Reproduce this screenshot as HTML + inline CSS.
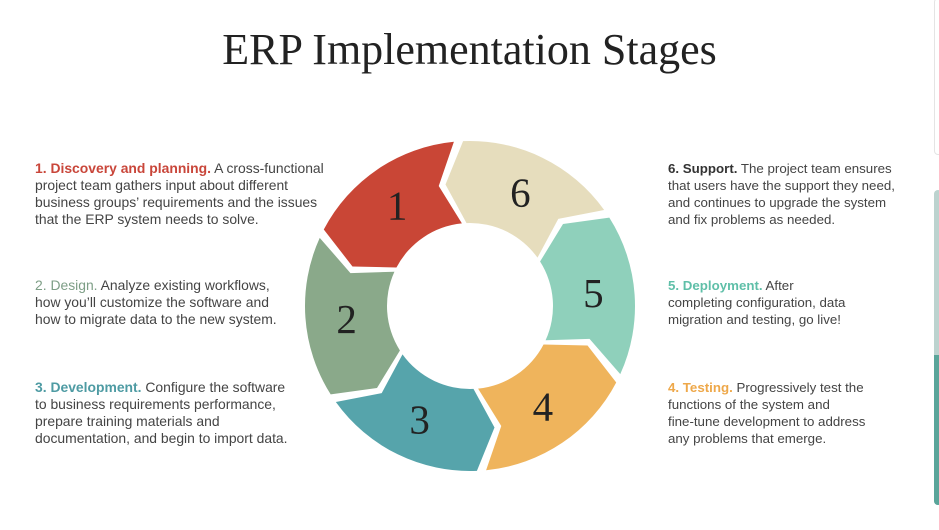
<!DOCTYPE html>
<html><head><meta charset="utf-8">
<style>
html,body{margin:0;padding:0;background:#fff;width:939px;height:530px;overflow:hidden;position:relative;font-family:"Liberation Sans",sans-serif}
h1{position:absolute;left:0;width:939px;top:24px;margin:0;text-align:center;font-family:"Liberation Serif",serif;font-weight:normal;font-size:44px;color:#222}
.blk{position:absolute;font-size:13.9px;line-height:17px;color:#444;white-space:nowrap}
.blk.r{font-size:13.3px}
.blk b{font-weight:bold}
</style></head><body>
<h1>ERP Implementation Stages</h1>
<div class="blk" style="left:35px;top:160px"><b style="color:#c9463a">1. Discovery and planning.</b> A cross-functional<br>project team gathers input about different<br>business groups’ requirements and the issues<br>that the ERP system needs to solve.</div>
<div class="blk" style="left:35px;top:277px"><b style="color:#7d9e86;font-weight:normal">2. Design.</b> Analyze existing workflows,<br>how you’ll customize the software and<br>how to migrate data to the new system.</div>
<div class="blk" style="left:35px;top:379px"><b style="color:#4e9ba3">3. Development.</b> Configure the software<br>to business requirements performance,<br>prepare training materials and<br>documentation, and begin to import data.</div>
<div class="blk r" style="left:668px;top:160px"><b style="color:#333">6. Support.</b> The project team ensures<br>that users have the support they need,<br>and continues to upgrade the system<br>and fix problems as needed.</div>
<div class="blk r" style="left:668px;top:277px"><b style="color:#5fbfa8">5. Deployment.</b> After<br>completing configuration, data<br>migration and testing, go live!</div>
<div class="blk r" style="left:668px;top:379px"><b style="color:#eea84a">4. Testing.</b> Progressively test the<br>functions of the system and<br>fine-tune development to address<br>any problems that emerge.</div>
<div style="position:absolute;left:934px;top:-2px;width:10px;height:155px;border:1px solid #e4e4e4;border-radius:4px"></div>
<div style="position:absolute;left:934px;top:190px;width:8px;height:315px;background:#bcd3cf;border-radius:5px;overflow:hidden"><div style="position:absolute;left:0;top:165px;width:8px;height:150px;background:#5aa59a"></div></div>
<svg id="wheel" width="939" height="530" style="position:absolute;left:0;top:0"></svg>
<script>
const stageLabels=["1","2","3","4","5","6"];
const stageAngles=[-124,176,116,56,-4,-64];
const stageColors=["#c94636","#8aa98a","#56a4ab","#efb45c","#8fd0bb","#e6ddbd"];
const cx=470,cy=306,R=165,r=83,gap=1.6,tip=9,span=30;
const svg=document.getElementById('wheel');
const NS='http://www.w3.org/2000/svg';
function pt(rad,deg){const a=deg*Math.PI/180;return [cx+rad*Math.cos(a),cy+rad*Math.sin(a)];}
stageLabels.forEach((lab,i)=>{
  const c=stageAngles[i],a0=c-span+gap,a1=c+span-gap,rm=(R+r)/2;
  const o0=pt(R,a0),o1=pt(R,a1),i0=pt(r,a0),i1=pt(r,a1),m0=pt(rm,a0-tip),m1=pt(rm,a1-tip);
  const d=`M${o0} A${R},${R} 0 0 1 ${o1} L${m1} L${i1} A${r},${r} 0 0 0 ${i0} L${m0} Z`;
  const p=document.createElementNS(NS,'path');
  p.setAttribute('d',d);p.setAttribute('fill',stageColors[i]);
  
  
  svg.appendChild(p);
  const tp=pt(rm,c-2);
  const t=document.createElementNS(NS,'text');
  t.setAttribute('x',tp[0]);t.setAttribute('y',tp[1]+14);
  t.setAttribute('text-anchor','middle');
  t.setAttribute('font-family','Liberation Serif, serif');
  t.setAttribute('font-size','41');t.setAttribute('fill','#222');
  t.textContent=lab;
  
  
  svg.appendChild(t);
});
</script>
</body></html>
